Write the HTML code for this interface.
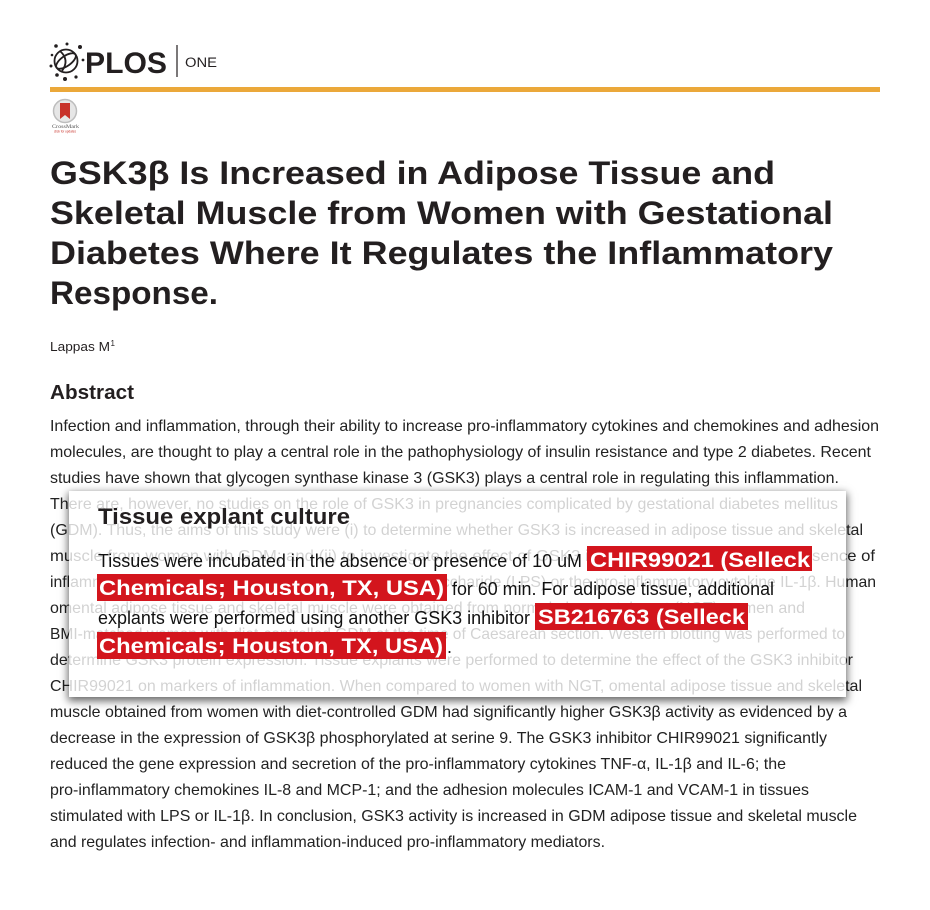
<!DOCTYPE html>
<html>
<head>
<meta charset="utf-8">
<style>
  html,body{margin:0;padding:0;background:#fff;}
  body{width:930px;height:910px;position:relative;overflow:hidden;}
  svg{position:absolute;left:0;top:0;}
  .ov{position:absolute;left:69px;top:491px;width:777px;height:206px;background:rgba(255,255,255,0.8);box-shadow:0 3px 8px 1px rgba(0,0,0,0.6);}
</style>
</head>
<body>
<svg width="930" height="910" viewBox="0 0 930 910" font-family="'Liberation Sans', Arial, sans-serif">
  <!-- Logo globe -->
  <g stroke="#231f20" fill="none" stroke-width="1.8">
    <circle cx="66" cy="61" r="11.5"/>
    <ellipse cx="66" cy="61" rx="11.5" ry="5" transform="rotate(-35 66 61)"/>
    <path d="M60 51 Q70 60 62 71"/>
  </g>
  <g fill="#231f20">
    <circle cx="56" cy="46" r="1.8"/><circle cx="67" cy="44" r="1.5"/><circle cx="80" cy="47" r="2"/>
    <circle cx="52" cy="55" r="1.3"/><circle cx="51" cy="66" r="1.5"/><circle cx="57" cy="75" r="1.8"/>
    <circle cx="65" cy="79" r="2"/><circle cx="76" cy="77" r="1.6"/><circle cx="83" cy="60" r="1.4"/>
  </g>
  <text x="85" y="73" font-size="30" font-weight="bold" fill="#231f20" textLength="82" lengthAdjust="spacingAndGlyphs">PLOS</text>
  <line x1="177" y1="45" x2="177" y2="77" stroke="#231f20" stroke-width="1.2"/>
  <text x="185" y="67" font-size="13.5" fill="#231f20" textLength="32" lengthAdjust="spacingAndGlyphs">ONE</text>
  <rect x="50" y="87" width="830" height="5" fill="#eba83a"/>

  <!-- CrossMark -->
  <circle cx="65" cy="111" r="11.5" fill="#e6e6e6" stroke="#bdbdbd" stroke-width="1.5"/>
  <path d="M60 103 h10 v16 l-5 -4 l-5 4 z" fill="#c8322a"/>
  <text x="52" y="128" font-size="5.5" fill="#555" font-family="'Liberation Serif', serif" textLength="27" lengthAdjust="spacingAndGlyphs">CrossMark</text>
  <text x="54" y="132.5" font-size="3.5" fill="#c8322a" textLength="22" lengthAdjust="spacingAndGlyphs">click for updates</text>

  <!-- Title -->
  <g font-size="32" font-weight="bold" fill="#231f20">
    <text x="50" y="184" textLength="725" lengthAdjust="spacingAndGlyphs">GSK3β Is Increased in Adipose Tissue and</text>
    <text x="50" y="224" textLength="783" lengthAdjust="spacingAndGlyphs">Skeletal Muscle from Women with Gestational</text>
    <text x="50" y="264" textLength="783" lengthAdjust="spacingAndGlyphs">Diabetes Where It Regulates the Inflammatory</text>
    <text x="50" y="304" textLength="168" lengthAdjust="spacingAndGlyphs">Response.</text>
  </g>

  <text x="50" y="351" font-size="12.5" fill="#231f20" textLength="60" lengthAdjust="spacingAndGlyphs">Lappas M</text>
  <text x="110.5" y="346" font-size="8" fill="#231f20">1</text>

  <text x="50" y="399" font-size="20" font-weight="bold" fill="#231f20" textLength="84" lengthAdjust="spacingAndGlyphs">Abstract</text>

  <!-- Body -->
  <g font-size="16" fill="#222">
    <text x="50" y="431" textLength="829" lengthAdjust="spacingAndGlyphs">Infection and inflammation, through their ability to increase pro-inflammatory cytokines and chemokines and adhesion</text>
    <text x="50" y="457" textLength="821" lengthAdjust="spacingAndGlyphs">molecules, are thought to play a central role in the pathophysiology of insulin resistance and type 2 diabetes. Recent</text>
    <text x="50" y="483" textLength="789" lengthAdjust="spacingAndGlyphs">studies have shown that glycogen synthase kinase 3 (GSK3) plays a central role in regulating this inflammation.</text>
    <text x="50" y="509" textLength="788" lengthAdjust="spacingAndGlyphs">There are, however, no studies on the role of GSK3 in pregnancies complicated by gestational diabetes mellitus</text>
    <text x="50" y="535" textLength="813" lengthAdjust="spacingAndGlyphs">(GDM). Thus, the aims of this study were (i) to determine whether GSK3 is increased in adipose tissue and skeletal</text>
    <text x="50" y="561" textLength="825" lengthAdjust="spacingAndGlyphs">muscle from women with GDM; and (ii) to investigate the effect of GSK3 inhibition in the absence or presence of</text>
    <text x="50" y="587" textLength="826" lengthAdjust="spacingAndGlyphs">inflammation induced by the bacterial product lipopolysaccharide (LPS) or the pro-inflammatory cytokine IL-1β. Human</text>
    <text x="50" y="613" textLength="755" lengthAdjust="spacingAndGlyphs">omental adipose tissue and skeletal muscle were obtained from normal glucose tolerant (NGT) women and</text>
    <text x="50" y="639" textLength="795" lengthAdjust="spacingAndGlyphs">BMI-matched women with diet-controlled GDM at the time of Caesarean section. Western blotting was performed to</text>
    <text x="50" y="665" textLength="803" lengthAdjust="spacingAndGlyphs">determine GSK3 protein expression. Tissue explants were performed to determine the effect of the GSK3 inhibitor</text>
    <text x="50" y="691" textLength="812" lengthAdjust="spacingAndGlyphs">CHIR99021 on markers of inflammation. When compared to women with NGT, omental adipose tissue and skeletal</text>
    <text x="50" y="717" textLength="797" lengthAdjust="spacingAndGlyphs">muscle obtained from women with diet-controlled GDM had significantly higher GSK3β activity as evidenced by a</text>
    <text x="50" y="743" textLength="777" lengthAdjust="spacingAndGlyphs">decrease in the expression of GSK3β phosphorylated at serine 9. The GSK3 inhibitor CHIR99021 significantly</text>
    <text x="50" y="769" textLength="736" lengthAdjust="spacingAndGlyphs">reduced the gene expression and secretion of the pro-inflammatory cytokines TNF-α, IL-1β and IL-6; the</text>
    <text x="50" y="795" textLength="759" lengthAdjust="spacingAndGlyphs">pro-inflammatory chemokines IL-8 and MCP-1; and the adhesion molecules ICAM-1 and VCAM-1 in tissues</text>
    <text x="50" y="821" textLength="807" lengthAdjust="spacingAndGlyphs">stimulated with LPS or IL-1β. In conclusion, GSK3 activity is increased in GDM adipose tissue and skeletal muscle</text>
    <text x="50" y="847" textLength="555" lengthAdjust="spacingAndGlyphs">and regulates infection- and inflammation-induced pro-inflammatory mediators.</text>
  </g>
</svg>

<div class="ov"></div>

<svg width="930" height="910" viewBox="0 0 930 910" font-family="'Liberation Sans', Arial, sans-serif">
  <text x="98" y="524" font-size="22" font-weight="bold" fill="#231f20" textLength="252" lengthAdjust="spacingAndGlyphs">Tissue explant culture</text>

  <g fill="#d3151d">
    <rect x="587" y="546" width="225" height="25"/>
    <rect x="97" y="574" width="350" height="27"/>
    <rect x="535" y="603" width="213" height="27"/>
    <rect x="97" y="632" width="349" height="27"/>
  </g>

  <g font-size="18" fill="#111">
    <text x="98" y="567" textLength="484" lengthAdjust="spacingAndGlyphs">Tissues were incubated in the absence or presence of 10 uM</text>
    <text x="452" y="595" textLength="322" lengthAdjust="spacingAndGlyphs">for 60 min. For adipose tissue, additional</text>
    <text x="98" y="624" textLength="432" lengthAdjust="spacingAndGlyphs">explants were performed using another GSK3 inhibitor</text>
    <text x="447" y="653">.</text>
  </g>

  <g font-size="21" font-weight="bold" fill="#fff">
    <text x="590" y="567" textLength="220" lengthAdjust="spacingAndGlyphs">CHIR99021 (Selleck</text>
    <text x="99" y="595" textLength="345" lengthAdjust="spacingAndGlyphs">Chemicals; Houston, TX, USA)</text>
    <text x="538" y="624" textLength="207" lengthAdjust="spacingAndGlyphs">SB216763 (Selleck</text>
    <text x="99" y="653" textLength="344" lengthAdjust="spacingAndGlyphs">Chemicals; Houston, TX, USA)</text>
  </g>
</svg>
</body>
</html>
